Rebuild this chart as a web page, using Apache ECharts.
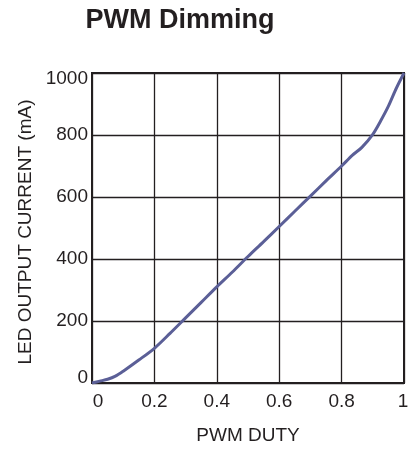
<!DOCTYPE html>
<html>
<head>
<meta charset="utf-8">
<script src="https://cdn.jsdelivr.net/npm/echarts@6/dist/echarts.min.js"></script>
<style>html,body{margin:0;padding:0;background:#fff}#c{width:414px;height:452px}</style>
</head>
<body>
<div id="c"></div>
<script>
const duty = [0, 0.025, 0.05, 0.075, 0.1, 0.15, 0.2, 0.25, 0.3, 0.35, 0.4, 0.45, 0.5, 0.55, 0.6, 0.65, 0.7, 0.75, 0.8, 0.835, 0.865, 0.9, 0.925, 0.95, 0.975, 1.0];
const current = [0, 6, 12, 22, 38, 74, 112, 160, 210, 260, 310, 358, 408, 456, 505, 554, 603, 652, 700, 735, 760, 802, 845, 893, 950, 1000];
const xTicks = [0, 0.2, 0.4, 0.6, 0.8, 1];
const yTicks = [0, 200, 400, 600, 800, 1000];

const FONT = 'Liberation Sans';
const INK = '#231f20';
const chart = echarts.init(document.getElementById('c'), null, {renderer: 'canvas'});
chart.setOption({
  animation: false,
  title: {
    text: 'PWM Dimming', left: 175, top: 2, textAlign: 'center',
    textStyle: {fontFamily: FONT, fontWeight: 'bold', fontSize: 27, color: INK}
  },
  grid: {left: 92, right: 10, top: 73, bottom: 69, show: true, borderColor: INK, borderWidth: 2},
  xAxis: {
    type: 'value', min: 0, max: 1, interval: 0.2,
    name: 'PWM DUTY', nameLocation: 'middle', nameGap: 43,
    nameTextStyle: {fontFamily: FONT, fontSize: 19, color: INK},
    axisLine: {show: true, lineStyle: {color: INK, width: 2}},
    axisTick: {show: false},
    axisLabel: {
      fontFamily: FONT, fontSize: 19, color: INK, margin: 9,
      formatter: v => {
        const t = xTicks.find(t => Math.abs(t - v) < 1e-9);
        const s = String(t ?? v);
        if (t === 0) return '{first|' + s + '}';
        if (t === 1) return '{last|' + s + '}';
        return s;
      },
      rich: {
        first: {fontFamily: FONT, fontSize: 19, color: INK, padding: [0, 0, 0, 12]},
        last: {fontFamily: FONT, fontSize: 19, color: INK, padding: [0, 2, 0, 0]}
      }
    },
    splitLine: {show: true, lineStyle: {color: INK, width: 1.3}}
  },
  yAxis: {
    type: 'value', min: 0, max: 1000, interval: 200,
    name: 'LED OUTPUT CURRENT (mA)', nameLocation: 'middle', nameGap: 50, nameRotate: 90,
    nameTextStyle: {fontFamily: FONT, fontSize: 19, color: INK, padding: [0, 8, 0, 0]},
    axisLine: {show: true, lineStyle: {color: INK, width: 2}},
    axisTick: {show: false},
    axisLabel: {
      fontFamily: FONT, fontSize: 19, color: INK, margin: 4,
      formatter: v => {
        const t = yTicks.find(t => t === v);
        const s = String(t ?? v);
        if (t === 0) return '{first|' + s + '}';
        if (t === 1000) return '{last|' + s + '}';
        return s;
      },
      rich: {
        first: {fontFamily: FONT, fontSize: 19, color: INK, padding: [0, 0, 10, 0]},
        last: {fontFamily: FONT, fontSize: 19, color: INK, padding: [12, 0, 0, 0]}
      }
    },
    splitLine: {show: true, lineStyle: {color: INK, width: 1.3}}
  },
  series: [{
    type: 'line', data: duty.map((d, i) => [d, current[i]]),
    smooth: 0.3, showSymbol: false,
    lineStyle: {color: '#5b5f97', width: 3}
  }]
});
</script>
</body>
</html>
